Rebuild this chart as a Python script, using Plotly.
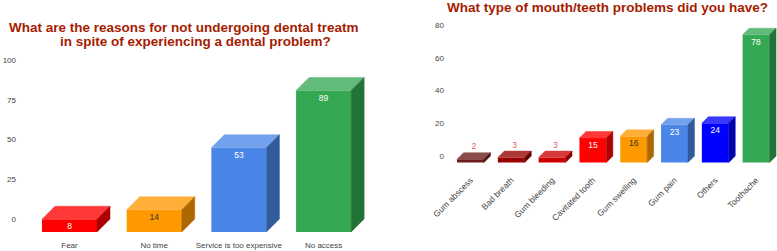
import plotly.graph_objects as go

# ---------------- data ----------------
left_categories = ["Fear", "No time", "Service is too expensive", "No access"]
left_values = [8, 14, 53, 89]
left_colors = ["#ff0000", "#ff9900", "#4a86e8", "#34a853"]
left_text_colors = ["#ffffff", "#333333", "#ffffff", "#ffffff"]
left_yticks = [0, 25, 50, 75, 100]
left_title_1 = "What are the reasons for not undergoing dental treatm"
left_title_2 = "in spite of experiencing a dental problem?"

right_categories = ["Gum abscess", "Bad breath", "Gum bleeding", "Cavitated tooth",
                    "Gum swelling", "Gum pain", "Others", "Toothache"]
right_values = [2, 3, 3, 15, 16, 23, 24, 78]
right_colors = ["#6a1a1a", "#990000", "#cc0000", "#ff0000",
                "#ff9900", "#4a86e8", "#0000ff", "#34a853"]
right_text_colors = ["#d95f5f", "#d95f5f", "#d95f5f", "#ffffff",
                     "#333333", "#ffffff", "#ffffff", "#ffffff"]
right_yticks = [0, 20, 40, 60, 80]
right_title = "What type of mouth/teeth problems did you have?"

# ---------------- layout constants (pixels) ----------------
W, H = 777, 251
FONT = "Liberation Sans, Arial, sans-serif"
TITLE_COLOR = "#a61c00"

def hex_to_rgb(h):
    h = h.lstrip("#")
    return tuple(int(h[i:i + 2], 16) for i in (0, 2, 4))

def rgb_to_hex(c):
    return "#%02x%02x%02x" % tuple(max(0, min(255, int(round(v)))) for v in c)

def lighten(h, f=0.22):
    r, g, b = hex_to_rgb(h)
    return rgb_to_hex((r + (255 - r) * f, g + (255 - g) * f, b + (255 - b) * f))

def darken(h, f=0.68):
    r, g, b = hex_to_rgb(h)
    return rgb_to_hex((r * f, g * f, b * f))

fig = go.Figure()


def add_chart(xa, ya, cats, vals, colors, tcolors, px_per_cat, px_per_unit,
              depth_px, width_frac, label_in_px, label_out_px):
    dxu = depth_px / px_per_cat
    dyu = depth_px / px_per_unit
    n = len(cats)
    xs = list(range(n))
    # front faces
    fig.add_trace(go.Bar(
        x=xs, y=vals, base=[-dyu] * n, width=width_frac,
        marker=dict(color=colors, line=dict(width=0)),
        xaxis=xa, yaxis=ya, hoverinfo="skip", showlegend=False))
    half = width_frac / 2
    for i, v in enumerate(vals):
        x0, x1 = i - half, i + half
        top = v - dyu
        # top face
        fig.add_trace(go.Scatter(
            x=[x0, x1, x1 + dxu, x0 + dxu, x0],
            y=[top, top, v, v, top],
            fill="toself", fillcolor=lighten(colors[i]), mode="lines",
            line=dict(width=0.5, color=lighten(colors[i])),
            xaxis=xa, yaxis=ya, hoverinfo="skip", showlegend=False))
        # side face
        fig.add_trace(go.Scatter(
            x=[x1, x1 + dxu, x1 + dxu, x1, x1],
            y=[-dyu, 0, v, top, -dyu],
            fill="toself", fillcolor=darken(colors[i]), mode="lines",
            line=dict(width=0.5, color=darken(colors[i])),
            xaxis=xa, yaxis=ya, hoverinfo="skip", showlegend=False))
    # value labels
    ly, lx = [], []
    for i, v in enumerate(vals):
        if v * px_per_unit < 10:
            ly.append(v + label_out_px / px_per_unit)
            lx.append(i + dxu / 2)
        else:
            ly.append(v - dyu - label_in_px / px_per_unit)
            lx.append(i)
    fig.add_trace(go.Scatter(
        x=lx, y=ly, mode="text", text=[str(v) for v in vals],
        textposition="middle center",
        textfont=dict(family=FONT, size=8.5, color=tcolors),
        xaxis=xa, yaxis=ya, hoverinfo="skip", showlegend=False))


# ---------- left chart geometry ----------
L_cat0 = 69.5
L_pitch = 84.7
L_left, L_right = 20, 390
L_ppu = 1.59
L_top_px, L_min = 60, -8.5          # value 100 at 60px
L_bottom_px = L_top_px + (100 - L_min) * L_ppu

add_chart("x", "y", left_categories, left_values, left_colors, left_text_colors,
          L_pitch, L_ppu, 13, 0.65, 8, 5)

# ---------- right chart geometry ----------
R_cat0 = 470.5
R_pitch = 40.8
R_left, R_right = 447, 777
R_ppu = 1.6375
R_top_px, R_min = 25, -4.3          # value 80 at 25px
R_bottom_px = R_top_px + (80 - R_min) * R_ppu

add_chart("x2", "y2", right_categories, right_values, right_colors, right_text_colors,
          R_pitch, R_ppu, 6.5, 0.66, 7.7, 5.5)

tickfont = dict(family=FONT, size=8, color="#444444")
tickfont_r = dict(family=FONT, size=8.5, color="#444444")

fig.update_layout(
    width=W, height=H,
    margin=dict(l=0, r=0, t=0, b=0),
    paper_bgcolor="white", plot_bgcolor="white",
    barmode="overlay",
    xaxis=dict(
        domain=[L_left / W, L_right / W],
        range=[(L_left - L_cat0) / L_pitch, (L_right - L_cat0) / L_pitch],
        tickvals=list(range(len(left_categories))), ticktext=left_categories,
        tickfont=tickfont, showgrid=False, zeroline=False, showline=False,
        ticks="outside", ticklen=5, tickcolor="rgba(0,0,0,0)",
        anchor="y", automargin=False, fixedrange=True),
    yaxis=dict(
        domain=[1 - L_bottom_px / H, 1 - L_top_px / H],
        range=[L_min, 100], tickvals=left_yticks,
        tickfont=tickfont, showgrid=False, zeroline=False, showline=False,
        ticklabelstandoff=3,
        anchor="x", automargin=False, fixedrange=True),
    xaxis2=dict(
        domain=[R_left / W, R_right / W],
        range=[(R_left - R_cat0) / R_pitch, (R_right - R_cat0) / R_pitch],
        tickvals=list(range(len(right_categories))), ticktext=right_categories,
        tickangle=-45,
        tickfont=tickfont_r, showgrid=False, zeroline=False, showline=False,
        ticks="outside", ticklen=8, tickcolor="rgba(0,0,0,0)",
        anchor="y2", automargin=False, fixedrange=True),
    yaxis2=dict(
        domain=[1 - R_bottom_px / H, 1 - R_top_px / H],
        range=[R_min, 80], tickvals=right_yticks,
        tickfont=tickfont, showgrid=False, zeroline=False, showline=False,
        ticklabelstandoff=2,
        anchor="x2", automargin=False, fixedrange=True),
    annotations=[
        dict(text="<b>" + left_title_1 + "</b>", x=7 / W, y=1 - 27 / H,
             xref="paper", yref="paper", xanchor="left", yanchor="middle",
             showarrow=False, font=dict(family=FONT, size=13.5, color=TITLE_COLOR)),
        dict(text="<b>" + left_title_2 + "</b>", x=195 / W, y=1 - 42 / H,
             xref="paper", yref="paper", xanchor="center", yanchor="middle",
             showarrow=False, font=dict(family=FONT, size=13.5, color=TITLE_COLOR)),
        dict(text="<b>" + right_title + "</b>", x=607 / W, y=1 - 8 / H,
             xref="paper", yref="paper", xanchor="center", yanchor="middle",
             showarrow=False, font=dict(family=FONT, size=13.5, color=TITLE_COLOR)),
    ],
)

fig.write_html("out.html", config={"displayModeBar": False},
               post_script="document.body.style.margin='0';document.body.style.overflow='hidden';")
